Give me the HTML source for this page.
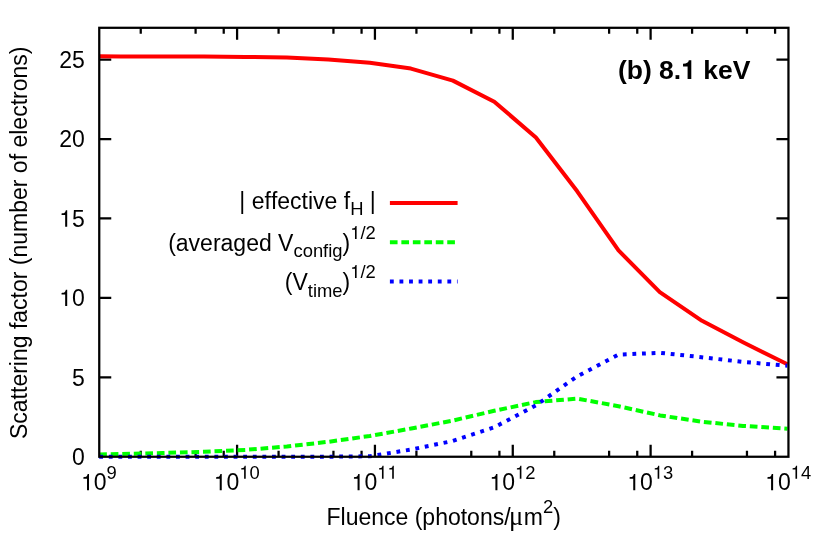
<!DOCTYPE html>
<html><head><meta charset="utf-8"><title>Scattering factor vs fluence</title>
<style>html,body{margin:0;padding:0;background:#fff;}svg{display:block;will-change:transform;}text{font-family:"Liberation Sans",sans-serif;fill:#000;font-kerning:none;white-space:pre;}</style></head><body>
<svg width="830" height="554" viewBox="0 0 830 554">
<rect x="0" y="0" width="830" height="554" fill="#ffffff"/>
<path d="M140.74,456.75V450.75M140.74,27.8V33.8M195.60,456.75V450.75M195.60,27.8V33.8M223.73,456.75V450.75M223.73,27.8V33.8M237.09,456.75V444.75M237.09,27.8V39.8M278.58,456.75V450.75M278.58,27.8V33.8M333.44,456.75V450.75M333.44,27.8V33.8M361.57,456.75V450.75M361.57,27.8V33.8M374.93,456.75V444.75M374.93,27.8V39.8M416.42,456.75V450.75M416.42,27.8V33.8M471.28,456.75V450.75M471.28,27.8V33.8M499.41,456.75V450.75M499.41,27.8V33.8M512.77,456.75V444.75M512.77,27.8V39.8M554.26,456.75V450.75M554.26,27.8V33.8M609.12,456.75V450.75M609.12,27.8V33.8M637.25,456.75V450.75M637.25,27.8V33.8M650.61,456.75V444.75M650.61,27.8V39.8M692.10,456.75V450.75M692.10,27.8V33.8M746.96,456.75V450.75M746.96,27.8V33.8M775.09,456.75V450.75M775.09,27.8V33.8M99.25,377.31H111.25M788.45,377.31H776.45M99.25,297.88H111.25M788.45,297.88H776.45M99.25,218.44H111.25M788.45,218.44H776.45M99.25,139.01H111.25M788.45,139.01H776.45M99.25,59.57H111.25M788.45,59.57H776.45" fill="none" stroke="#000" stroke-width="2.25"/>
<polyline points="99.2,56.3 120.9,56.4 162.4,56.5 203.9,56.6 245.4,56.9 286.8,57.6 328.3,59.5 369.8,62.8 410.9,68.6 452.9,80.6 494.3,101.7 535.9,137.5 577.2,191.3 618.5,250.4 659.8,292.1 702.0,320.8 743.5,342.5 787.4,364.3" fill="none" stroke="#ff0000" stroke-width="4" stroke-linejoin="round"/>
<polyline points="99.2,454.4 121.0,454.0 162.4,453.0 203.9,451.8 245.4,449.9 286.8,446.5 328.3,441.8 369.8,436.0 411.3,428.5 452.7,420.6 494.2,410.8 535.7,402.1 576.9,398.6 618.5,406.2 660.1,415.4 701.5,421.7 743.0,425.9 787.4,428.7" fill="none" stroke="#00ff00" stroke-width="4" stroke-dasharray="7.69 3.845" stroke-linejoin="round"/>
<polyline points="99.2,456.7 328.3,456.7 369.8,456.3 411.3,449.5 452.7,441.0 494.2,427.3 535.7,405.5 577.0,376.5 618.5,354.6 660.1,352.8 701.5,357.2 743.0,361.9 787.4,365.7" fill="none" stroke="#0000ff" stroke-width="4" stroke-dasharray="3.84 5.76" stroke-linejoin="round"/>
<line x1="389.9" y1="203" x2="457.6" y2="203" stroke="#ff0000" stroke-width="4"/>
<line x1="389.9" y1="242.2" x2="457.6" y2="242.2" stroke="#00ff00" stroke-width="4" stroke-dasharray="7.66 3.81"/>
<line x1="389.9" y1="281.5" x2="457.6" y2="281.5" stroke="#0000ff" stroke-width="4" stroke-dasharray="3.84 5.74"/>
<rect x="99.25" y="27.8" width="689.20" height="428.95" fill="none" stroke="#000" stroke-width="2.25"/>
<text x="72.01" y="464.95" font-size="23">0</text>
<text x="72.01" y="385.51" font-size="23">5</text>
<path d="M65.17,306.08L67.20,306.08L67.20,289.77L65.86,289.77C65.15,292.28 64.69,292.62 61.56,293.02L61.56,294.46L65.17,294.46Z" fill="#000"/>
<text x="72.01" y="306.08" font-size="23">0</text>
<path d="M65.17,226.64L67.20,226.64L67.20,210.34L65.86,210.34C65.15,212.84 64.69,213.19 61.56,213.58L61.56,215.03L65.17,215.03Z" fill="#000"/>
<text x="72.01" y="226.64" font-size="23">5</text>
<text x="59.22" y="147.21" font-size="23">20</text>
<text x="59.22" y="67.77" font-size="23">25</text>
<path d="M87.00,490.30L89.02,490.30L89.02,473.99L87.69,473.99C86.98,476.50 86.52,476.85 83.39,477.24L83.39,478.69L87.00,478.69Z" fill="#000"/>
<text x="93.83" y="490.30" font-size="23">0</text>
<text x="106.62" y="478.70" font-size="18.4">9</text>
<path d="M219.72,490.30L221.75,490.30L221.75,473.99L220.41,473.99C219.70,476.50 219.24,476.85 216.11,477.24L216.11,478.69L219.72,478.69Z" fill="#000"/>
<text x="226.56" y="490.30" font-size="23">0</text>
<path d="M244.11,478.70L245.73,478.70L245.73,465.65L244.67,465.65C244.10,467.66 243.73,467.94 241.23,468.25L241.23,469.41L244.11,469.41Z" fill="#000"/>
<text x="249.58" y="478.70" font-size="18.4">0</text>
<path d="M357.56,490.30L359.59,490.30L359.59,473.99L358.25,473.99C357.54,476.50 357.08,476.85 353.95,477.24L353.95,478.69L357.56,478.69Z" fill="#000"/>
<text x="364.40" y="490.30" font-size="23">0</text>
<path d="M381.95,478.70L383.57,478.70L383.57,465.65L382.51,465.65C381.94,467.66 381.57,467.94 379.07,468.25L379.07,469.41L381.95,469.41Z" fill="#000"/>
<path d="M392.19,478.70L393.81,478.70L393.81,465.65L392.74,465.65C392.17,467.66 391.80,467.94 389.30,468.25L389.30,469.41L392.19,469.41Z" fill="#000"/>
<path d="M495.40,490.30L497.43,490.30L497.43,473.99L496.09,473.99C495.38,476.50 494.92,476.85 491.79,477.24L491.79,478.69L495.40,478.69Z" fill="#000"/>
<text x="502.24" y="490.30" font-size="23">0</text>
<path d="M519.79,478.70L521.41,478.70L521.41,465.65L520.35,465.65C519.78,467.66 519.41,467.94 516.91,468.25L516.91,469.41L519.79,469.41Z" fill="#000"/>
<text x="525.26" y="478.70" font-size="18.4">2</text>
<path d="M633.24,490.30L635.27,490.30L635.27,473.99L633.93,473.99C633.22,476.50 632.76,476.85 629.63,477.24L629.63,478.69L633.24,478.69Z" fill="#000"/>
<text x="640.08" y="490.30" font-size="23">0</text>
<path d="M657.63,478.70L659.25,478.70L659.25,465.65L658.19,465.65C657.62,467.66 657.25,467.94 654.75,468.25L654.75,469.41L657.63,469.41Z" fill="#000"/>
<text x="663.10" y="478.70" font-size="18.4">3</text>
<path d="M771.08,490.30L773.11,490.30L773.11,473.99L771.77,473.99C771.06,476.50 770.60,476.85 767.47,477.24L767.47,478.69L771.08,478.69Z" fill="#000"/>
<text x="777.92" y="490.30" font-size="23">0</text>
<path d="M795.47,478.70L797.09,478.70L797.09,465.65L796.03,465.65C795.46,467.66 795.09,467.94 792.59,468.25L792.59,469.41L795.47,469.41Z" fill="#000"/>
<text x="800.94" y="478.70" font-size="18.4">4</text>
<text x="326.49" y="524.80" font-size="23">Fluence (photons/</text>
<text x="508.90" y="524.80" font-size="26.5" style="font-family:&quot;Liberation Serif&quot;,serif">μ</text>
<text x="523.86" y="524.80" font-size="23">m</text>
<text x="543.02" y="513.00" font-size="18.4">2</text>
<text x="553.25" y="524.80" font-size="23">)</text>
<text transform="translate(26.5,242.8) rotate(-90)" font-size="23" text-anchor="middle">Scattering factor (number of electrons)</text>
<text x="617.90" y="79.00" font-size="26.5" font-weight="bold">(b) 8.</text>
<path d="M687.59,79.00L691.30,79.00L691.30,60.21L688.81,60.21C688.49,62.44 686.90,63.68 683.03,63.82L683.03,66.44L687.59,66.44Z" fill="#000"/>
<text x="695.94" y="79.00" font-size="26.5" font-weight="bold"> keV</text>
<text x="239.35" y="208.60" font-size="23">| effective f</text>
<text x="350.15" y="215.20" font-size="18.4">H</text>
<text x="363.44" y="208.60" font-size="23"> |</text>
<text x="168.16" y="250.50" font-size="23">(averaged V</text>
<text x="293.46" y="257.20" font-size="18.4">config</text>
<text x="342.56" y="250.60" font-size="23">)</text>
<path d="M354.99,239.00L356.61,239.00L356.61,225.95L355.54,225.95C354.97,227.96 354.60,228.24 352.10,228.55L352.10,229.71L354.99,229.71Z" fill="#000"/>
<text x="360.45" y="239.00" font-size="18.4">/2</text>
<text x="284.80" y="290.10" font-size="23">(V</text>
<text x="307.80" y="296.70" font-size="18.4">time</text>
<text x="342.56" y="290.10" font-size="23">)</text>
<path d="M354.99,278.00L356.61,278.00L356.61,264.95L355.54,264.95C354.97,266.96 354.60,267.24 352.10,267.55L352.10,268.71L354.99,268.71Z" fill="#000"/>
<text x="360.45" y="278.00" font-size="18.4">/2</text>
</svg></body></html>
